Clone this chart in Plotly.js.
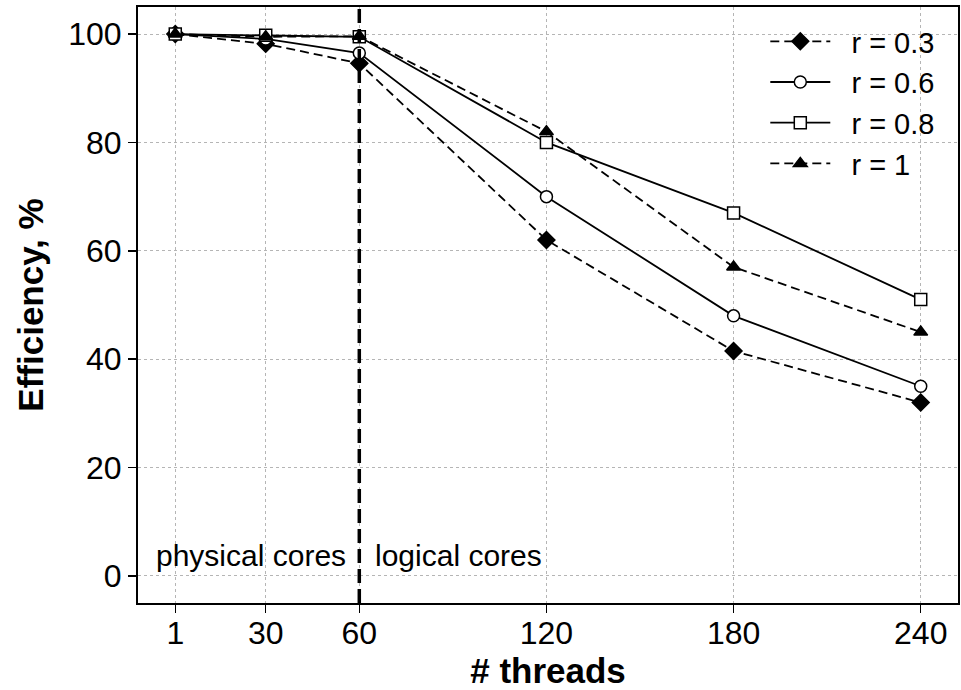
<!DOCTYPE html>
<html>
<head>
<meta charset="utf-8">
<script src="https://cdn.plot.ly/plotly-3.0.1.min.js"></script>
<style>
  html, body { margin: 0; padding: 0; background: #ffffff; }
  #chart { width: 961px; height: 690px; }
</style>
</head>
<body>
<div id="chart"></div>
<script>
// Thread counts on the x axis
const threads = [1, 30, 60, 120, 180, 240];
const threadTicks = ['1', '30', '60', '120', '180', '240'];

// Parallel efficiency (%) for each value of r
const eff_r03 = [100, 98.2, 94.6, 62, 41.5, 32];
const eff_r06 = [100, 99.1, 96.5, 70, 48, 35];
const eff_r08 = [100, 99.8, 99.5, 80, 67, 51];
const eff_r1  = [100, 99.5, 99.6, 82, 57, 45];

const seriesNames = ['r = 0.3', 'r = 0.6', 'r = 0.8', 'r = 1'];

// Boundary between physical and logical (hyper-threaded) cores
const coreBoundary = 60;

const FONT = '"Liberation Sans", Arial, Helvetica, sans-serif';
const DASH = '9px,5px';
const PAD = '\u00a0\u00a0'; // spacing between legend sample and label

function series(name, y, dash, symbol, size, fill) {
  return {
    type: 'scatter',
    mode: 'lines+markers',
    name: PAD + name,
    x: threads,
    y: y,
    line: { color: '#000000', width: 1.8, dash: dash },
    marker: {
      symbol: symbol,
      size: size,
      color: fill,
      line: { color: '#000000', width: 1.5 }
    }
  };
}

const data = [
  series(seriesNames[0], eff_r03, DASH, 'diamond', 13, '#000000'),
  series(seriesNames[1], eff_r06, 'solid', 'circle', 12, '#ffffff'),
  series(seriesNames[2], eff_r08, 'solid', 'square', 12, '#ffffff'),
  series(seriesNames[3], eff_r1, DASH, 'triangle-up', 12, '#000000')
];

const axisCommon = {
  showline: true,
  linecolor: '#000000',
  linewidth: 2,
  mirror: true,
  ticks: 'outside',
  ticklen: 8,
  tickwidth: 1.5,
  tickcolor: '#000000',
  showgrid: true,
  gridcolor: '#b5b5b5',
  gridwidth: 1,
  griddash: 'dot',
  zeroline: false,
  tickfont: { family: FONT, size: 32, color: '#000000' }
};

const layout = {
  width: 961,
  height: 690,
  margin: { l: 138, r: 3, t: 7, b: 87 },
  paper_bgcolor: '#ffffff',
  plot_bgcolor: '#ffffff',
  font: { family: FONT, color: '#000000' },
  showlegend: true,
  legend: {
    x: 0.765, xanchor: 'left',
    y: 0.985, yanchor: 'top',
    bgcolor: 'rgba(0,0,0,0)',
    borderwidth: 0,
    font: { family: FONT, size: 29, color: '#000000' },
    itemwidth: 60,
    tracegroupgap: 0
  },
  xaxis: Object.assign({}, axisCommon, {
    range: [-10.95, 251.95],
    tickmode: 'array',
    tickvals: threads,
    ticktext: threadTicks,
    ticklabelstandoff: -7,
    title: { text: '<b># threads</b>', font: { family: FONT, size: 35, color: '#000000' }, standoff: 12 }
  }),
  yaxis: Object.assign({}, axisCommon, {
    range: [-5, 105],
    tickmode: 'array',
    tickvals: [0, 20, 40, 60, 80, 100],
    ticktext: ['0', '20', '40', '60', '80', '100'],
    title: { text: '<b>Efficiency, %</b>', font: { family: FONT, size: 35, color: '#000000' }, standoff: 14 }
  }),
  shapes: [{
    type: 'line',
    xref: 'x', yref: 'paper',
    x0: coreBoundary, x1: coreBoundary,
    y0: 0, y1: 1,
    line: { color: '#000000', width: 3.5, dash: '14px,6px' },
    layer: 'above'
  }],
  annotations: [
    {
      text: 'physical cores',
      xref: 'x', yref: 'y',
      x: coreBoundary, y: 3.8,
      xanchor: 'right', yanchor: 'middle',
      xshift: -11,
      showarrow: false,
      font: { family: FONT, size: 30, color: '#000000' }
    },
    {
      text: 'logical cores',
      xref: 'x', yref: 'y',
      x: coreBoundary, y: 3.8,
      xanchor: 'left', yanchor: 'middle',
      xshift: 14,
      showarrow: false,
      font: { family: FONT, size: 30, color: '#000000' }
    }
  ]
};

Plotly.newPlot('chart', data, layout, { displayModeBar: false, staticPlot: true });
</script>
</body>
</html>
